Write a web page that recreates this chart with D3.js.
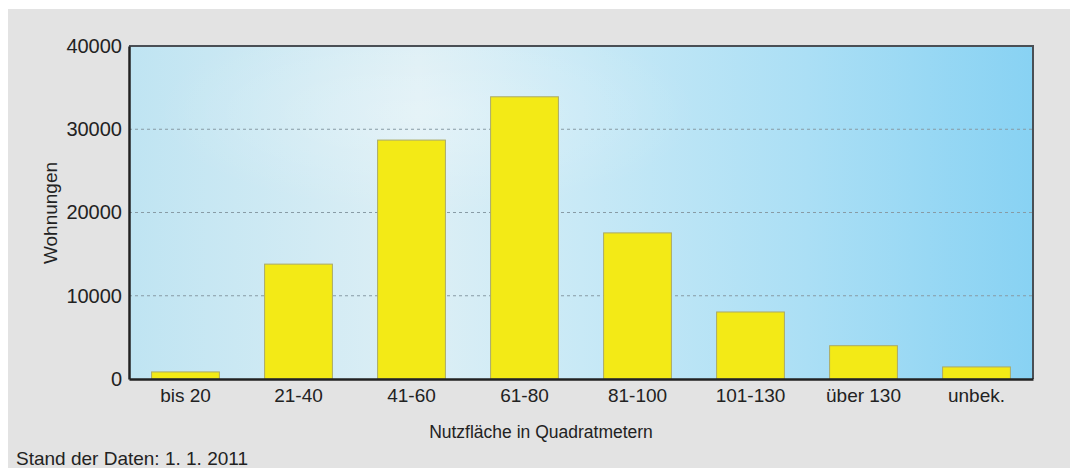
<!DOCTYPE html>
<html>
<head>
<meta charset="utf-8">
<script src="https://cdn.jsdelivr.net/npm/d3@7"></script>
<style>
  body { margin: 0; background: #fff; }
  svg { display: block; }
  text { font-family: "Liberation Sans", Arial, Helvetica, sans-serif; fill: #222; }
</style>
</head>
<body>
<div id="chart"></div>
<script>
// Wohnungen nach Nutzflaeche
var categories = ["bis 20", "21-40", "41-60", "61-80", "81-100", "101-130", "über 130", "unbek."];
var wohnungen = [850, 13800, 28700, 33900, 17550, 8050, 4000, 1450];
var yTicks = [0, 10000, 20000, 30000, 40000];

var width = 1070, height = 468;
var margin = {left: 129, right: 37, top: 46, bottom: 89};

var svg = d3.select("#chart").append("svg")
    .attr("width", width)
    .attr("height", height);

var defs = svg.append("defs");

var grad = defs.append("linearGradient").attr("id", "bg").attr("x1", "0").attr("x2", "1").attr("y1", "0").attr("y2", "0");
grad.append("stop").attr("offset", "0").attr("stop-color", "#bfe4f2");
grad.append("stop").attr("offset", "0.32").attr("stop-color", "#ddeff5");
grad.append("stop").attr("offset", "0.5").attr("stop-color", "#c8e9f6");
grad.append("stop").attr("offset", "0.75").attr("stop-color", "#abdff5");
grad.append("stop").attr("offset", "1").attr("stop-color", "#88d2f3");

var glow = defs.append("radialGradient").attr("id", "glow").attr("cx", "0.33").attr("cy", "0.2").attr("r", "0.3");
glow.append("stop").attr("offset", "0").attr("stop-color", "#fff").attr("stop-opacity", 0.25);
glow.append("stop").attr("offset", "1").attr("stop-color", "#fff").attr("stop-opacity", 0);

// grauer Hintergrund
svg.append("rect")
    .attr("x", 8).attr("y", 9)
    .attr("width", width - 8).attr("height", height - 9)
    .attr("fill", "#e3e3e3");

var x = d3.scaleBand()
    .domain(categories)
    .range([margin.left, width - margin.right])
    .paddingInner(0.4)
    .paddingOuter(0.2);

var y = d3.scaleLinear()
    .domain([0, 40000])
    .range([height - margin.bottom, margin.top]);

var plotW = width - margin.right - margin.left;
var plotH = y(0) - y(40000);

svg.append("rect")
    .attr("x", margin.left).attr("y", margin.top)
    .attr("width", plotW).attr("height", plotH)
    .attr("fill", "url(#bg)");
svg.append("rect")
    .attr("x", margin.left).attr("y", margin.top)
    .attr("width", plotW).attr("height", plotH)
    .attr("fill", "url(#glow)");

// Gitterlinien
svg.append("g")
    .selectAll("line")
    .data(yTicks.filter(function(d) { return d > 0 && d < 40000; }))
    .enter().append("line")
    .attr("x1", margin.left).attr("x2", width - margin.right)
    .attr("y1", function(d) { return y(d); })
    .attr("y2", function(d) { return y(d); })
    .attr("stroke", "#889ba5")
    .attr("stroke-width", 1.2)
    .attr("stroke-dasharray", "3,3");

// Balken
svg.append("g")
    .selectAll("rect")
    .data(wohnungen)
    .enter().append("rect")
    .attr("x", function(d, i) { return x(categories[i]); })
    .attr("y", function(d) { return y(d); })
    .attr("width", x.bandwidth())
    .attr("height", function(d) { return y(0) - y(d); })
    .attr("fill", "#f3ea16")
    .attr("stroke", "#a9a96a")
    .attr("stroke-width", 1);

// Rahmen oben/rechts
svg.append("path")
    .attr("d", "M" + margin.left + "," + margin.top + "H" + (width - margin.right) + "V" + y(0))
    .attr("fill", "none")
    .attr("stroke", "#4a4f55")
    .attr("stroke-width", 2);

// Achsen
var yAxis = d3.axisLeft(y).tickValues(yTicks).tickSize(0).tickPadding(7).tickFormat(d3.format("d"));
var xAxis = d3.axisBottom(x).tickSize(0).tickPadding(10);

var gy = svg.append("g")
    .attr("transform", "translate(" + margin.left + ",0)")
    .call(yAxis);
gy.select(".domain").attr("stroke", "#222").attr("stroke-width", 2.5);
gy.selectAll("text").style("font-size", "20px").style("fill", "#222").attr("font-family", null);

var gx = svg.append("g")
    .attr("transform", "translate(0," + y(0) + ")")
    .call(xAxis);
gx.select(".domain").attr("stroke", "#222").attr("stroke-width", 2.5);
gx.selectAll("text").style("font-size", "19px").style("fill", "#222").attr("font-family", null);

// Achsentitel
svg.append("text")
    .attr("transform", "translate(" + 57 + "," + 213 + ") rotate(-90)")
    .style("text-anchor", "middle")
    .style("font-size", "19px")
    .text("Wohnungen");

svg.append("text")
    .attr("x", 541).attr("y", 438)
    .style("text-anchor", "middle")
    .style("font-size", "17.5px")
    .text("Nutzfläche in Quadratmetern");

svg.append("text")
    .attr("x", 16).attr("y", 465)
    .style("font-size", "19px")
    .text("Stand der Daten: 1. 1. 2011");
</script>
</body>
</html>
